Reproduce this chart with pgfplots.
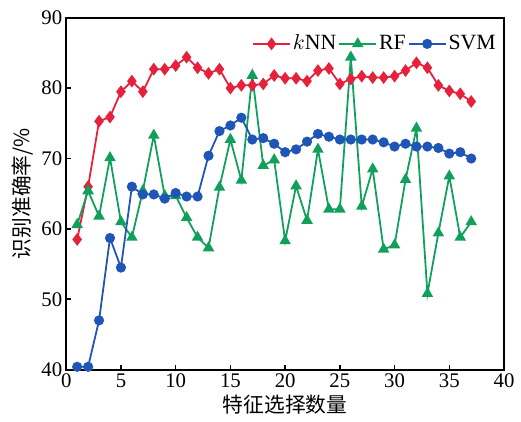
\documentclass[border=0pt]{standalone}
\usepackage{fontspec}
\setmainfont{Liberation Serif}
\newfontfamily\cjk{Noto Sans CJK SC}
\usepackage{pgfplots}
\pgfplotsset{compat=1.18}
\definecolor{knnred}{HTML}{E5213B}
\definecolor{rfgreen}{HTML}{11A05C}
\definecolor{svmblue}{HTML}{1E55B6}
\begin{document}
\begin{tikzpicture}
\begin{axis}[
    scale only axis,
    width=221.5pt, height=178pt,
    xmin=0, xmax=40, ymin=40, ymax=90,
    xtick={0,5,...,40}, ytick={40,50,...,90},
    tick align=inside,
    xtick pos=left, ytick pos=left,
    major tick length=2.5pt,
    axis line style={line width=1pt},
    tick style={line width=0.8pt, black},
    /pgf/number format/assume math mode=true,
    tick label style={font=\fontsize{10.5}{12}\selectfont},
    xticklabel style={yshift=1.5pt},
    yticklabel style={xshift=1.5pt},
    xlabel={\cjk 特征选择数量},
    ylabel={\cjk 识别准确率/\%},
    label style={font=\fontsize{10.5}{12}\selectfont},
    xlabel style={yshift=3pt},
    ylabel style={yshift=-2.5pt},
    legend columns=3,
    legend style={draw=none, fill=none, at={(rel axis cs:1.0,0.975)}, anchor=north east,
        font=\fontsize{11}{12}\selectfont, column sep=0pt,
        nodes={inner xsep=1pt}},
    legend image code/.code={\draw[#1] (0cm,0cm) -- (0.66cm,0cm); \draw[#1, only marks] plot coordinates {(0.33cm,0cm)};},
    every axis plot/.append style={line width=0.9pt},
]
\coordinate (tl) at (rel axis cs:0,1);
\coordinate (bl) at (rel axis cs:0,0);
\addplot[color=knnred, mark=diamond*, mark size=2.5pt] coordinates {
(1,58.5)(2,66.0)(3,75.3)(4,75.9)(5,79.5)(6,81.0)(7,79.5)(8,82.7)(9,82.7)(10,83.2)
(11,84.4)(12,82.9)(13,82.1)(14,82.7)(15,80.0)(16,80.4)(17,80.4)(18,80.6)(19,81.8)(20,81.4)
(21,81.4)(22,81.0)(23,82.5)(24,82.8)(25,80.6)(26,81.3)(27,81.7)(28,81.5)(29,81.5)(30,81.7)
(31,82.5)(32,83.6)(33,82.9)(34,80.4)(35,79.6)(36,79.2)(37,78.1)
};
\addlegendentry{$k$NN}
\addplot[color=rfgreen, mark=triangle*, mark size=2.5pt] coordinates {
(1,60.6)(2,65.4)(3,61.8)(4,70.1)(5,61.0)(6,58.8)(7,65.4)(8,73.3)(9,64.7)(10,64.7)
(11,61.6)(12,58.8)(13,57.3)(14,65.9)(15,72.7)(16,66.9)(17,81.8)(18,69.0)(19,69.8)(20,58.3)
(21,66.1)(22,61.2)(23,71.3)(24,62.8)(25,62.8)(26,84.4)(27,63.2)(28,68.5)(29,57.1)(30,57.7)
(31,67.0)(32,74.3)(33,50.8)(34,59.4)(35,67.5)(36,58.8)(37,61.0)
};
\addlegendentry{RF\hspace{5pt}}
\addplot[color=svmblue, mark=*, mark size=2.1pt] coordinates {
(1,40.4)(2,40.4)(3,47.0)(4,58.7)(5,54.5)(6,66.0)(7,64.9)(8,64.9)(9,64.3)(10,65.1)
(11,64.6)(12,64.6)(13,70.4)(14,73.9)(15,74.7)(16,75.8)(17,72.7)(18,72.9)(19,72.1)(20,70.9)
(21,71.3)(22,72.4)(23,73.5)(24,73.1)(25,72.7)(26,72.7)(27,72.7)(28,72.7)(29,72.3)(30,71.7)
(31,72.1)(32,71.7)(33,71.7)(34,71.5)(35,70.7)(36,70.9)(37,70.0)
};
\addlegendentry{SVM}
\end{axis}
\path (tl) ++(0,9pt) coordinate (top);
\path (bl) ++(-33.5pt,-25.5pt) coordinate (bot);
\end{tikzpicture}
\end{document}
